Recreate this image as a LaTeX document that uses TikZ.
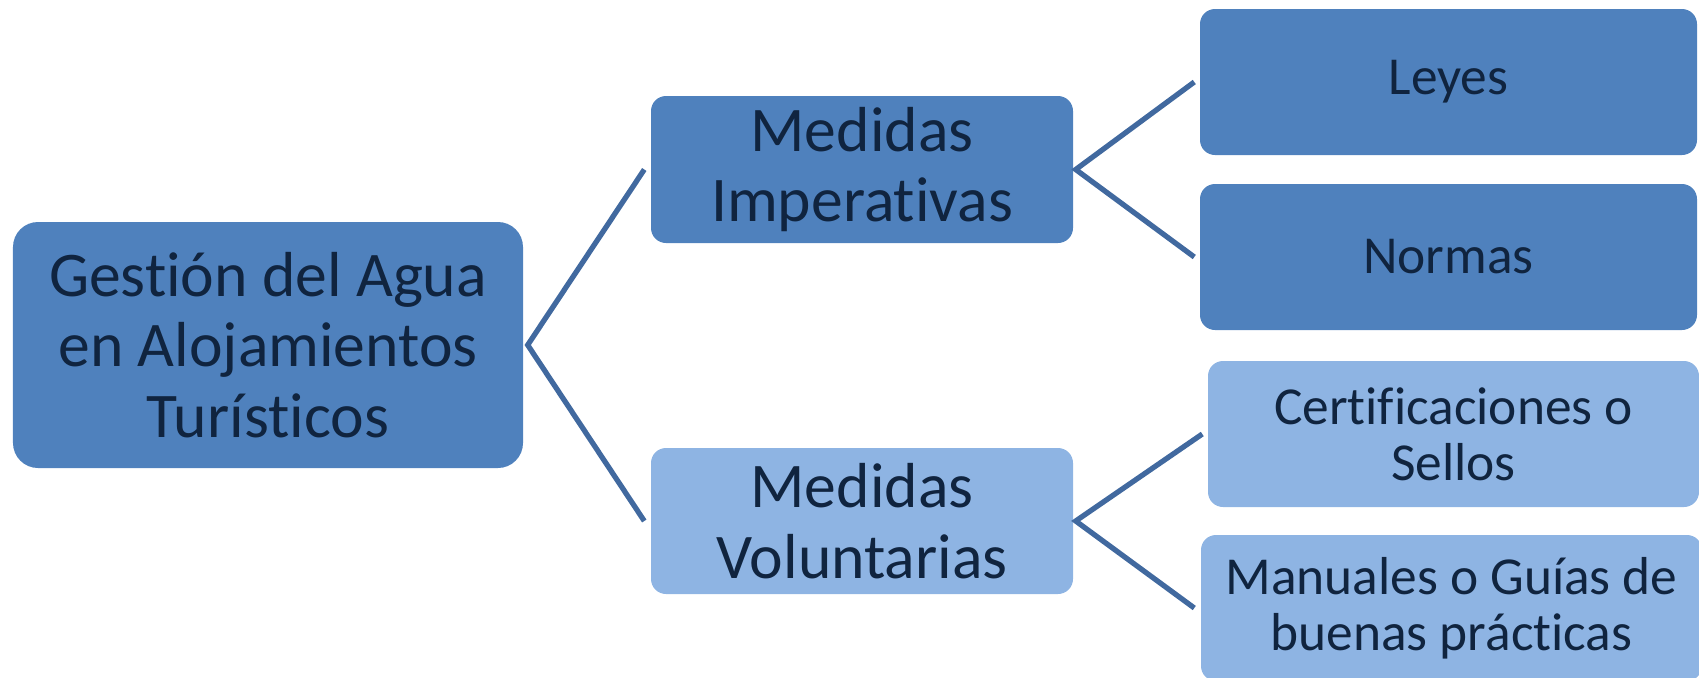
\documentclass[tikz,border=0pt]{standalone}
\usepackage{fontspec}
\setmainfont{Carlito}[Ligatures=NoCommon]
\definecolor{darkbox}{HTML}{4F81BD}
\definecolor{lightbox}{HTML}{8EB4E3}
\definecolor{boxtext}{HTML}{10243F}
\definecolor{linkline}{HTML}{41699F}
\begin{document}
\begin{tikzpicture}[
		box/.style={rectangle,rounded corners=0.15cm,inner sep=0pt,align=center,text=boxtext,
			font=\fontsize{18.1}{20}\selectfont},
		leaf/.style={box,minimum height=1.46cm,font=\fontsize{15.2}{16}\selectfont},
		link/.style={draw=linkline,line width=1.5pt}
	]
	\useasboundingbox (0,0) rectangle (16.99,6.77);
	% root
	\node[box,fill=darkbox,rounded corners=0.25cm,minimum width=5.10cm,minimum height=2.46cm] (root) at (2.68,3.32)
		{Gestión del Agua\\en Alojamientos\\Turísticos};
	% second level
	\node[box,fill=darkbox,minimum width=4.22cm,minimum height=1.47cm] (imp) at (8.62,5.075) {Medidas\\Imperativas};
	\node[box,fill=lightbox,minimum width=4.22cm,minimum height=1.46cm] (vol) at (8.62,1.56) {Medidas\\Voluntarias};
	% leaves
	\node[leaf,fill=darkbox,minimum width=4.97cm] (leyes) at (14.485,5.95) {Leyes};
	\node[leaf,fill=darkbox,minimum width=4.97cm] (normas) at (14.485,4.20) {Normas};
	\node[leaf,fill=lightbox,minimum width=4.91cm] (cert) at (14.535,2.43) {Certificaciones o\\Sellos};
	\node[leaf,fill=lightbox,minimum width=5.01cm] (manual) at (14.515,0.69) {Manuales o Guías de\\buenas prácticas};
	% connectors
	\draw[link] ([xshift=-0.06cm]imp.west) -- ([xshift=0.04cm]root.east) -- ([xshift=-0.06cm]vol.west);
	\draw[link] ([xshift=-0.05cm]leyes.west) -- ([xshift=0.02cm]imp.east) -- ([xshift=-0.05cm]normas.west);
	\draw[link] ([xshift=-0.05cm]cert.west) -- ([xshift=0.02cm]vol.east) -- ([xshift=-0.06cm]manual.west);
\end{tikzpicture}
\end{document}
